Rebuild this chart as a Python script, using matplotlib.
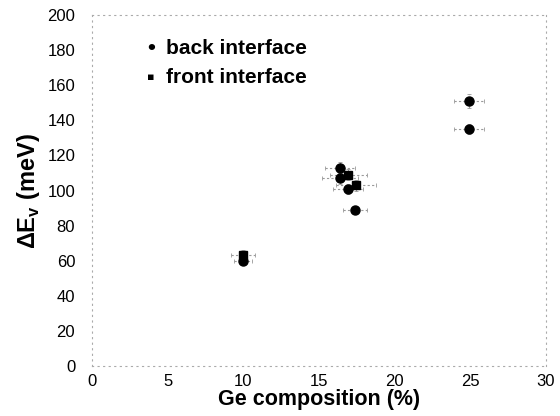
import matplotlib.pyplot as plt
import numpy as np

plt.rcParams['font.family'] = ['Liberation Sans', 'DejaVu Sans']
plt.rcParams['mathtext.fontset'] = 'custom'
plt.rcParams['mathtext.rm'] = 'Liberation Sans'
plt.rcParams['mathtext.bf'] = 'Liberation Sans:bold'

# back interface (circles)
back_x = [16.4, 16.4, 16.9, 17.4, 24.9, 24.9, 10.0]
back_y = [113, 107, 101, 89, 151, 135, 60]
back_xerr = [1.0, 1.2, 1.0, 0.8, 1.0, 1.0, 0.6]
back_yerr = [3, 3, 3, 2, 4, 3, 2]

# front interface (squares)
front_x = [16.95, 17.45, 10.0]
front_y = [109, 103, 63]
front_xerr = [1.2, 1.3, 0.8]
front_yerr = [3, 3, 3]

fig = plt.figure(figsize=(5.6, 4.16), dpi=100)
ax = fig.add_axes([0.164, 0.12, 0.811, 0.844])

err_style = dict(ecolor='#9a9a9a', elinewidth=0.8, capsize=1.5, capthick=0.6)
eb1 = ax.errorbar(back_x, back_y, xerr=back_xerr, yerr=back_yerr, fmt='o', color='black',
                  markersize=6.5, **err_style)
eb2 = ax.errorbar(front_x, front_y, xerr=front_xerr, yerr=front_yerr, fmt='s', color='black',
                  markersize=6, **err_style)
for eb in (eb1, eb2):
    for lc in eb[2]:
        lc.set_linestyle((0, (2, 2)))

ax.set_xlim(0, 30)
ax.set_ylim(0, 200)
ax.set_xticks(np.arange(0, 31, 5))
ax.set_yticks(np.arange(0, 201, 20))
ax.tick_params(length=0, labelsize=12)
ax.tick_params(axis='y', pad=12)
ax.tick_params(axis='x', pad=6)

for s in ax.spines.values():
    s.set_color('#aaaaaa')
    s.set_linestyle((0, (1, 4)))
    s.set_linewidth(0.8)

ax.set_xlabel('Ge composition (%)', fontsize=15.5, fontweight='bold', labelpad=0)
ax.set_ylabel(r'ΔE$_\mathbf{v}$ (meV)', fontsize=17, fontweight='bold', labelpad=4)

# legend drawn as text lines like the original
ax.text(3.9, 181, '•', fontsize=16, fontweight='bold', va='center', ha='center')
ax.text(4.9, 181, 'back interface', fontsize=15, fontweight='bold', va='center')
ax.text(3.9, 164.5, '▪', fontsize=8, fontweight='bold', va='center', ha='center',
        family=['DejaVu Sans'])
ax.text(4.9, 164.5, 'front interface', fontsize=15, fontweight='bold', va='center')

fig.savefig('out.png', dpi=100)
